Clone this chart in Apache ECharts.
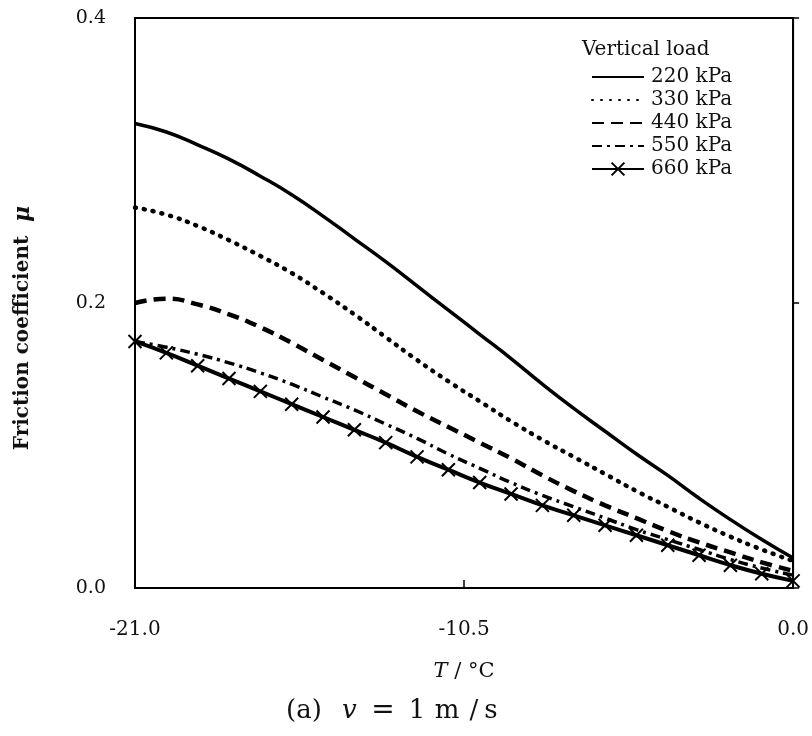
<!DOCTYPE html>
<html>
<head>
<meta charset="utf-8">
<script src="https://cdn.jsdelivr.net/npm/echarts@6/dist/echarts.min.js"></script>
<style>
  html, body { margin: 0; padding: 0; background: #fff; }
  #chart { width: 812px; height: 736px; }
</style>
</head>
<body>
<div id="chart"></div>
<script>
// temperature T (°C), one reading per degree
var temps = [-21, -20, -19, -18, -17, -16, -15, -14, -13, -12, -11,
             -10, -9, -8, -7, -6, -5, -4, -3, -2, -1, 0];

// friction coefficient for each vertical load
var mu220 = [0.326, 0.320, 0.311, 0.301, 0.289, 0.276, 0.261, 0.245, 0.229, 0.212, 0.195,
             0.178, 0.161, 0.143, 0.126, 0.110, 0.094, 0.079, 0.063, 0.048, 0.034, 0.021];
var mu330 = [0.267, 0.262, 0.254, 0.244, 0.233, 0.221, 0.207, 0.192, 0.176, 0.160, 0.145,
             0.131, 0.117, 0.104, 0.092, 0.080, 0.068, 0.057, 0.046, 0.036, 0.027, 0.019];
var mu440 = [0.200, 0.203, 0.199, 0.192, 0.183, 0.172, 0.160, 0.148, 0.136, 0.124, 0.113,
             0.102, 0.091, 0.079, 0.068, 0.058, 0.049, 0.040, 0.032, 0.025, 0.018, 0.012];
var mu550 = [0.173, 0.169, 0.164, 0.158, 0.151, 0.143, 0.134, 0.125, 0.115, 0.105, 0.094,
             0.084, 0.074, 0.065, 0.057, 0.049, 0.041, 0.034, 0.027, 0.020, 0.014, 0.009];
var mu660 = [0.173, 0.165, 0.156, 0.147, 0.138, 0.129, 0.120, 0.111, 0.102, 0.092, 0.083,
             0.074, 0.066, 0.058, 0.051, 0.044, 0.037, 0.030, 0.023, 0.016, 0.010, 0.005];

var loadNames = ['220 kPa', '330 kPa', '440 kPa', '550 kPa', '660 kPa'];
var xTicks = [-21, -10.5, 0];
var yTicks = [0, 0.2, 0.4];

var serif = '"DejaVu Serif", "Liberation Serif", serif';

function pairs(ys) {
  return temps.map(function (t, i) { return [t, ys[i]]; });
}

var chart = echarts.init(document.getElementById('chart'));

function lineSeries(name, ys, style, extra) {
  var s = {
    name: name,
    type: 'line',
    smooth: 0.5,
    showSymbol: false,
    symbol: 'none',
    data: pairs(ys),
    lineStyle: Object.assign({ color: '#000', width: 3 }, style),
    itemStyle: { color: '#000' },
    emphasis: { disabled: true }
  };
  return Object.assign(s, extra || {});
}

// caption pieces, each in its own box so the spacing follows the original
var capRich = {
  pa: { fontFamily: serif, fontSize: 26, fill: '#111', width: 56, align: 'left' },
  v: { fontFamily: serif, fontSize: 26, fontStyle: 'italic', fill: '#111', width: 19, align: 'left' },
  eq: { fontFamily: serif, fontSize: 28, fill: '#111', width: 44, align: 'center' },
  one: { fontFamily: serif, fontSize: 26, fill: '#111', width: 24, align: 'left' },
  m: { fontFamily: serif, fontSize: 26, fill: '#111', width: 36, align: 'left' },
  sl: { fontFamily: serif, fontSize: 26, fill: '#111', width: 18, align: 'left' },
  s: { fontFamily: serif, fontSize: 26, fill: '#111', width: 16, align: 'left' }
};

var option = {
  animation: false,
  backgroundColor: '#fff',
  grid: {
    left: 135, right: 18, top: 18, bottom: 148,
    show: true, borderColor: '#000', borderWidth: 2
  },
  legend: {
    orient: 'vertical',
    left: 586, top: 62,
    itemWidth: 52, itemHeight: 16, itemGap: 3,
    itemStyle: { opacity: 0 },
    textStyle: { fontFamily: serif, fontSize: 20, color: '#111', padding: [0, 0, 0, 2] },
    data: loadNames.map(function (n, i) {
      return i === 4 ? { name: n, itemStyle: { opacity: 1 } } : { name: n };
    })
  },
  graphic: [
    {
      type: 'text', left: 582, top: 40,
      style: { text: 'Vertical load', font: '20px ' + serif, fill: '#111' }
    },
    {
      type: 'text', x: 23, y: 328, rotation: Math.PI / 2,
      style: {
        text: '{b|Friction coefficient  }{i|μ}',
        align: 'center', verticalAlign: 'middle',
        rich: {
          b: { fontFamily: serif, fontSize: 20, fontWeight: 'bold', fill: '#111' },
          i: { fontFamily: serif, fontSize: 22, fontStyle: 'italic', fontWeight: 'bold', fill: '#111' }
        }
      }
    },
    {
      type: 'text', left: 286, top: 697,
      style: {
        text: '{pa|(a)}{v|v}{eq|=}{one|1}{m|m}{sl|/}{s|s}',
        rich: capRich
      }
    }
  ],
  xAxis: {
    type: 'value',
    min: -21, max: 0, interval: 10.5,
    name: '{i|T}{n| / °C}',
    nameLocation: 'middle',
    nameGap: 73,
    nameTextStyle: {
      rich: {
        i: { fontFamily: serif, fontSize: 21, fontStyle: 'italic', color: '#111' },
        n: { fontFamily: serif, fontSize: 21, color: '#111' }
      }
    },
    axisLine: { show: true, lineStyle: { color: '#000', width: 2 } },
    axisTick: { show: true, inside: true, length: 8, lineStyle: { color: '#000', width: 1.5 } },
    axisLabel: {
      margin: 32, fontFamily: serif, fontSize: 20, color: '#111',
      formatter: function (v) { return xTicks.indexOf(v) >= 0 ? v.toFixed(1) : ''; }
    },
    splitLine: { show: false }
  },
  yAxis: {
    type: 'value',
    min: 0, max: 0.4, interval: 0.2,
    axisLine: { show: true, lineStyle: { color: '#000', width: 2 } },
    axisTick: { show: true, inside: true, length: 6, lineStyle: { color: '#000', width: 1.5 } },
    axisLabel: {
      margin: 29, fontFamily: serif, fontSize: 19, color: '#111',
      formatter: function (v) {
        var r = Math.round(v * 10) / 10;
        return yTicks.indexOf(r) >= 0 ? r.toFixed(1) : '';
      }
    },
    splitLine: { show: false }
  },
  series: [
    lineSeries(loadNames[0], mu220, { type: 'solid', width: 3.5 }),
    lineSeries(loadNames[1], mu330, { type: [1, 8], width: 4.5, cap: 'round' }),
    lineSeries(loadNames[2], mu440, { type: [12, 7], width: 4.5 }),
    lineSeries(loadNames[3], mu550, { type: [10, 5, 3, 5], width: 3.5 }),
    lineSeries(loadNames[4], mu660, { type: 'solid', width: 4 }, {
      showSymbol: true,
      symbol: 'path://M0,0L10,10M10,0L0,10',
      symbolSize: 13,
      itemStyle: { color: '#000', borderColor: '#000', borderWidth: 2 }
    })
  ]
};

chart.setOption(option);
</script>
</body>
</html>
